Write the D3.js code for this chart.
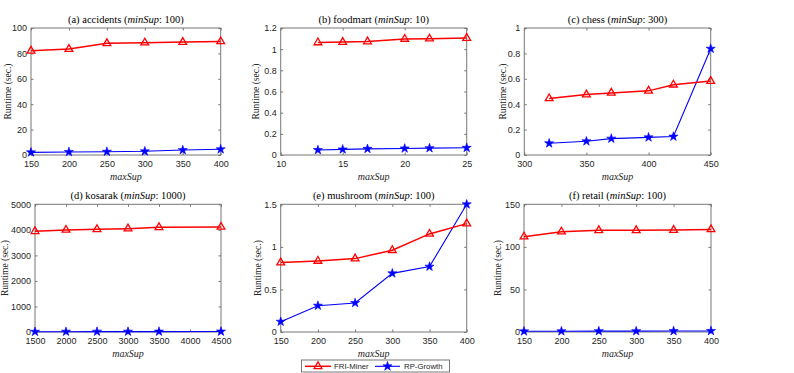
<!DOCTYPE html>
<html><head><meta charset="utf-8">
<script src="https://cdn.jsdelivr.net/npm/d3@7"></script>
<style>body{margin:0;background:#fff}svg{display:block}</style>
</head><body>
<svg id="chart" width="794" height="373"></svg>
<script>
// ---- data ----
const seriesNames = ["FRI-Miner", "RP-Growth"];

const accidentsX = [150, 200, 250, 300, 350, 400];
const accidentsFRI = [82.0, 83.4, 87.9, 88.4, 88.9, 89.4];
const accidentsRP = [2.1, 2.4, 2.6, 2.9, 3.9, 4.5];
const accidentsYTicks = [0, 20, 40, 60, 80, 100];
const accidentsXTicks = [150, 200, 250, 300, 350, 400];

const foodmartX = [13, 15, 17, 20, 22, 25];
const foodmartFRI = [1.063, 1.067, 1.072, 1.096, 1.099, 1.105];
const foodmartRP = [0.047, 0.053, 0.058, 0.062, 0.065, 0.068];
const foodmartYTicks = [0, 0.2, 0.4, 0.6, 0.8, 1, 1.2];
const foodmartXTicks = [10, 15, 20, 25];

const chessX = [320, 350, 370, 400, 420, 450];
const chessFRI = [0.445, 0.476, 0.489, 0.505, 0.553, 0.582];
const chessRP = [0.092, 0.108, 0.129, 0.139, 0.145, 0.837];
const chessYTicks = [0, 0.2, 0.4, 0.6, 0.8, 1];
const chessXTicks = [300, 350, 400, 450];

const kosarakX = [1500, 2000, 2500, 3000, 3500, 4500];
const kosarakFRI = [3943, 3995, 4021, 4047, 4099, 4112];
const kosarakRP = [10, 12, 14, 15, 16, 18];
const kosarakYTicks = [0, 1000, 2000, 3000, 4000, 5000];
const kosarakXTicks = [1500, 2000, 2500, 3000, 3500, 4000, 4500];

const mushroomX = [150, 200, 250, 300, 350, 400];
const mushroomFRI = [0.815, 0.834, 0.862, 0.96, 1.152, 1.273];
const mushroomRP = [0.121, 0.309, 0.341, 0.689, 0.768, 1.5];
const mushroomYTicks = [0, 0.5, 1, 1.5];
const mushroomXTicks = [150, 200, 250, 300, 350, 400];

const retailX = [150, 200, 250, 300, 350, 400];
const retailFRI = [111.9, 117.8, 119.4, 119.4, 119.7, 120.5];
const retailRP = [0.8, 0.9, 1.0, 1.0, 1.1, 1.2];
const retailYTicks = [0, 50, 100, 150];
const retailXTicks = [150, 200, 250, 300, 350, 400];

const panels = [
  {label:"(a) accidents", minSup:"100", x:accidentsX, fri:accidentsFRI, rp:accidentsRP, xt:accidentsXTicks, yt:accidentsYTicks, xd:[150,400], yd:[0,100],
   box:{l:31, r:220.7, t:28, b:155}, ylx:8},
  {label:"(b) foodmart", minSup:"10", x:foodmartX, fri:foodmartFRI, rp:foodmartRP, xt:foodmartXTicks, yt:foodmartYTicks, xd:[10,25], yd:[0,1.2],
   box:{l:280.7, r:466.7, t:28, b:155}, ylx:256},
  {label:"(c) chess", minSup:"300", x:chessX, fri:chessFRI, rp:chessRP, xt:chessXTicks, yt:chessYTicks, xd:[300,450], yd:[0,1],
   box:{l:524.3, r:710.7, t:28, b:155}, ylx:503},
  {label:"(d) kosarak", minSup:"1000", x:kosarakX, fri:kosarakFRI, rp:kosarakRP, xt:kosarakXTicks, yt:kosarakYTicks, xd:[1500,4500], yd:[0,5000],
   box:{l:35, r:221, t:204.3, b:332}, ylx:4.5},
  {label:"(e) mushroom", minSup:"100", x:mushroomX, fri:mushroomFRI, rp:mushroomRP, xt:mushroomXTicks, yt:mushroomYTicks, xd:[150,400], yd:[0,1.5],
   box:{l:280.7, r:466.7, t:204.3, b:332}, ylx:258},
  {label:"(f) retail", minSup:"100", x:retailX, fri:retailFRI, rp:retailRP, xt:retailXTicks, yt:retailYTicks, xd:[150,400], yd:[0,150],
   box:{l:524, r:711, t:204.3, b:332}, ylx:497.5}
];

const RED = "#ff0000", BLUE = "#0000ff", AX = "#777", TXT = "#262626";
const sans = "'Liberation Sans', Arial, sans-serif";
const serif = "'Liberation Serif', 'Times New Roman', serif";
const svg = d3.select("#chart");

const triangle = d3.symbol().type(d3.symbolTriangle).size(26);
const star = d3.symbol().type(d3.symbolStar).size(26);

panels.forEach(p => {
  const B = p.box;
  const x = d3.scaleLinear().domain(p.xd).range([B.l, B.r]);
  const y = d3.scaleLinear().domain(p.yd).range([B.b, B.t]);
  const g = svg.append("g");
  const tk = 2.5;
  const fmt = v => String(+v.toFixed(3));

  // bottom axis (labels) + inward ticks
  const xAxis = d3.axisBottom(x).tickValues(p.xt).tickSize(-tk).tickPadding(6).tickFormat(fmt);
  const gx = g.append("g").attr("transform", `translate(0,${B.b})`).call(xAxis);
  gx.select(".domain").remove();
  gx.selectAll("line").attr("stroke", AX);
  gx.selectAll("text").attr("font-family", sans).attr("font-size", 9).attr("fill", TXT);
  // top ticks
  const gxt = g.append("g").attr("transform", `translate(0,${B.t})`).call(d3.axisTop(x).tickValues(p.xt).tickSize(-tk).tickFormat(""));
  gxt.select(".domain").remove(); gxt.selectAll("line").attr("stroke", AX);

  const yAxis = d3.axisLeft(y).tickValues(p.yt).tickSize(-tk).tickPadding(4).tickFormat(fmt);
  const gy = g.append("g").attr("transform", `translate(${B.l},0)`).call(yAxis);
  gy.select(".domain").remove();
  gy.selectAll("line").attr("stroke", AX);
  gy.selectAll("text").attr("font-family", sans).attr("font-size", 9).attr("fill", TXT);
  const gyr = g.append("g").attr("transform", `translate(${B.r},0)`).call(d3.axisRight(y).tickValues(p.yt).tickSize(-tk).tickFormat(""));
  gyr.select(".domain").remove(); gyr.selectAll("line").attr("stroke", AX);

  g.append("rect").attr("x", B.l).attr("y", B.t).attr("width", B.r - B.l).attr("height", B.b - B.t)
    .attr("fill", "none").attr("stroke", AX).attr("stroke-width", 1);

  // title
  const t = g.append("text").attr("x", (B.l + B.r) / 2).attr("y", B.t - 5.5).attr("text-anchor", "middle")
    .attr("font-family", serif).attr("font-size", 10.5).attr("fill", "#000");
  t.append("tspan").text(p.label + " (");
  t.append("tspan").attr("font-style", "italic").text("minSup");
  t.append("tspan").text(": " + p.minSup + ")");

  // x label
  g.append("text").attr("x", (B.l + B.r) / 2).attr("y", B.b + 24.5).attr("text-anchor", "middle")
    .attr("font-family", serif).attr("font-style", "italic").attr("font-size", 10).attr("fill", TXT).text("maxSup");
  // y label
  g.append("text").attr("transform", `translate(${p.ylx + 3},${(B.t + B.b) / 2}) rotate(-90)`).attr("text-anchor", "middle")
    .attr("font-family", serif).attr("font-size", 9.5).attr("fill", TXT).text("Runtime (sec.)");

  const line = d3.line().x(d => x(d[0])).y(d => y(d[1]));
  const rpPts = p.x.map((v, i) => [v, p.rp[i]]);
  const friPts = p.x.map((v, i) => [v, p.fri[i]]);

  g.append("path").datum(rpPts).attr("d", line).attr("fill", "none").attr("stroke", BLUE).attr("stroke-width", 1.1);
  g.selectAll(".st").data(rpPts).enter().append("path")
    .attr("transform", d => `translate(${x(d[0])},${y(d[1])})`).attr("d", star())
    .attr("fill", BLUE).attr("stroke", BLUE).attr("stroke-width", 0.6);

  g.append("path").datum(friPts).attr("d", line).attr("fill", "none").attr("stroke", RED).attr("stroke-width", 1.5);
  g.selectAll(".tr").data(friPts).enter().append("path")
    .attr("transform", d => `translate(${x(d[0])},${y(d[1])})`).attr("d", triangle())
    .attr("fill", "none").attr("stroke", RED).attr("stroke-width", 1.3);
});

// legend
const lg = svg.append("g");
lg.append("rect").attr("x", 301.5).attr("y", 360).attr("width", 148).attr("height", 12)
  .attr("fill", "#fff").attr("stroke", AX).attr("stroke-width", 1);
const ly = 366.3;
lg.append("line").attr("x1", 305).attr("x2", 331).attr("y1", ly).attr("y2", ly).attr("stroke", RED).attr("stroke-width", 1.5);
lg.append("path").attr("transform", `translate(318,${ly})`).attr("d", triangle()).attr("fill", "none").attr("stroke", RED).attr("stroke-width", 1.3);
lg.append("text").attr("x", 334).attr("y", ly + 2.8).attr("font-family", sans).attr("font-size", 7.8).attr("fill", TXT).text(seriesNames[0]);
lg.append("line").attr("x1", 375).attr("x2", 400).attr("y1", ly).attr("y2", ly).attr("stroke", BLUE).attr("stroke-width", 1.1);
lg.append("path").attr("transform", `translate(387.5,${ly})`).attr("d", star()).attr("fill", BLUE).attr("stroke", BLUE).attr("stroke-width", 0.6);
lg.append("text").attr("x", 404).attr("y", ly + 2.8).attr("font-family", sans).attr("font-size", 7.8).attr("fill", TXT).text(seriesNames[1]);
</script>
</body></html>
